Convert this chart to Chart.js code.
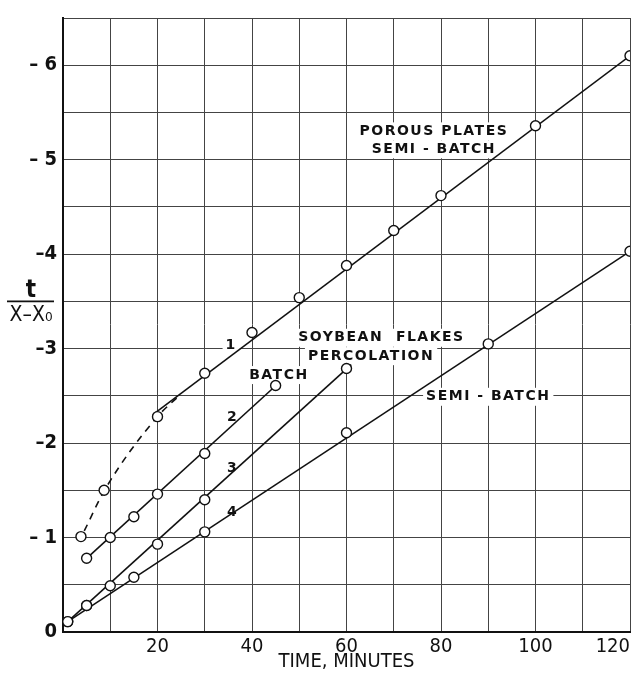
<!DOCTYPE html>
<html>
<head>
<meta charset="utf-8">
<script src="https://cdn.jsdelivr.net/npm/chart.js@4.4.1/dist/chart.umd.min.js"></script>
<style>
html,body{margin:0;padding:0;background:#fff;}
#wrap{width:641px;height:674px;position:relative;}
</style>
</head>
<body>
<div id="wrap"><canvas id="c" width="641" height="674"></canvas></div>
<script>
// ---- data ----
const porousX = [20, 30, 40, 50, 60, 70, 80, 100, 120];
const porousY = [2.28, 2.74, 3.17, 3.54, 3.88, 4.25, 4.62, 5.36, 6.10];
const porousFitX = [19.5, 120];
const porousFitY = [2.32, 6.10];

const dashX = [4.5, 8.9, 20, 25];
const dashY = [1.07, 1.51, 2.28, 2.52];
const dashPtX = [3.8, 8.7];
const dashPtY = [1.01, 1.50];

const batch2X = [5, 10, 15, 20, 30, 45];
const batch2Y = [0.78, 1.00, 1.22, 1.46, 1.89, 2.61];
const batch2FitX = [5, 45.3];
const batch2FitY = [0.78, 2.62];

const batch3X = [1, 5, 10, 20, 30, 60];
const batch3Y = [0.11, 0.28, 0.49, 0.93, 1.40, 2.79];
const batch3FitX = [1, 61];
const batch3FitY = [0.11, 2.83];

const semiX = [1, 5, 15, 30, 60, 90, 120];
const semiY = [0.11, 0.28, 0.58, 1.06, 2.11, 3.05, 4.03];
const semiFitX = [1, 120];
const semiFitY = [0.11, 4.03];

const yTickLabels = ['0', '\u2013 1', '\u20132', '\u20133', '\u20134', '\u2013 5', '\u2013 6'];
const xTickLabels = ['20', '40', '60', '80', '100', '120'];

const notes = [
  {text: 'POROUS PLATES', x: 78.5, y: 5.30},
  {text: 'SEMI - BATCH', x: 78.5, y: 5.11},
  {text: 'SOYBEAN  FLAKES', x: 67.4, y: 3.115},
  {text: 'PERCOLATION', x: 65.2, y: 2.92},
  {text: 'BATCH', x: 45.7, y: 2.72},
  {text: 'SEMI - BATCH', x: 90, y: 2.49},
  {text: '1', x: 35.6, y: 3.03},
  {text: '2', x: 35.9, y: 2.27},
  {text: '3', x: 35.9, y: 1.73},
  {text: '4', x: 35.9, y: 1.27}
];

// ---- build ----
const zip = (xs, ys) => xs.map((x, i) => ({x: x, y: ys[i]}));
const FONT = "'DejaVu Sans Condensed', 'Liberation Sans Narrow', 'DejaVu Sans', sans-serif";
const NOTEFONT = "'DejaVu Sans', 'Liberation Sans', sans-serif";

function pts(xs, ys) {
  return {data: zip(xs, ys), showLine: false, pointStyle: 'circle', pointRadius: 5,
    pointBackgroundColor: '#fff', pointBorderColor: '#111', pointBorderWidth: 1.4, order: 0};
}
function line(xs, ys, dash) {
  return {data: zip(xs, ys), showLine: true, pointRadius: 0, borderColor: '#111',
    borderWidth: 1.6, borderDash: dash || [], order: 1, fill: false,
    cubicInterpolationMode: dash ? 'monotone' : 'default'};
}

const annot = {
  id: 'annot',
  beforeDatasetsDraw(chart) {
    const ctx = chart.ctx, xs = chart.scales.x, ys = chart.scales.y;
    ctx.save();
    ctx.font = "bold 14px " + NOTEFONT;
    try { ctx.letterSpacing = '1.5px'; } catch (e) {}
    ctx.textAlign = 'center';
    ctx.textBaseline = 'middle';
    notes.forEach(n => {
      const px = xs.getPixelForValue(n.x), py = ys.getPixelForValue(n.y);
      const w = ctx.measureText(n.text).width;
      ctx.fillStyle = '#fff';
      ctx.fillRect(px - w / 2 - 3, py - 9, w + 6, 18);
      ctx.fillStyle = '#111';
      ctx.fillText(n.text, px, py);
    });
    ctx.restore();
  },
  afterDraw(chart) {
    const ctx = chart.ctx, ys = chart.scales.y;
    const cx = chart.chartArea.left - 32;
    const cy = ys.getPixelForValue(3.5);
    ctx.save();
    ctx.fillStyle = '#111';
    ctx.strokeStyle = '#111';
    ctx.textAlign = 'center';
    ctx.textBaseline = 'alphabetic';
    ctx.font = "bold 24px " + FONT;
    ctx.fillText('t', cx, cy - 4);
    ctx.lineWidth = 1.8;
    ctx.beginPath();
    ctx.moveTo(cx - 24, cy);
    ctx.lineTo(cx + 23, cy);
    ctx.stroke();
    ctx.font = "21px " + FONT;
    ctx.fillText('X\u2013X\u2080', cx, cy + 20);
    ctx.restore();
  }
};

new Chart(document.getElementById('c'), {
  type: 'scatter',
  data: {
    datasets: [
      pts(porousX, porousY),
      pts(dashPtX, dashPtY),
      pts(batch2X, batch2Y),
      pts(batch3X, batch3Y),
      pts(semiX, semiY),
      line(porousFitX, porousFitY),
      line(dashX, dashY, [7, 6]),
      line(batch2FitX, batch2FitY),
      line(batch3FitX, batch3FitY),
      line(semiFitX, semiFitY)
    ]
  },
  options: {
    responsive: false,
    animation: false,
    layout: {padding: {top: 13, right: 11, left: 0, bottom: 0}},
    plugins: {legend: {display: false}, tooltip: {enabled: false}},
    scales: {
      x: {
        type: 'linear', min: 0, max: 120,
        afterFit(s) { s.height = 42; },
        grid: {color: '#444', lineWidth: 1, drawTicks: false},
        border: {color: '#111', width: 2},
        ticks: {
          stepSize: 10, autoSkip: false, maxRotation: 0, padding: 3, align: 'inner',
          color: '#111', font: {size: 20, family: FONT},
          callback(v) { return (v > 0 && v % 20 === 0) ? xTickLabels[v / 20 - 1] : ''; }
        },
        title: {display: true, text: 'TIME, MINUTES', color: '#111',
          font: {size: 20, family: FONT}, padding: {top: -6, bottom: 0}}
      },
      y: {
        type: 'linear', min: 0, max: 6.5,
        afterFit(s) { s.width = 63; },
        grid: {color: '#444', lineWidth: 1, drawTicks: false},
        border: {color: '#111', width: 2},
        ticks: {
          stepSize: 0.5, autoSkip: false, padding: 6,
          color: '#111', font: {size: 20, family: FONT, weight: 'bold'},
          callback(v) { return Number.isInteger(v) ? yTickLabels[v] : ''; }
        }
      }
    }
  },
  plugins: [annot]
});
</script>
</body>
</html>
